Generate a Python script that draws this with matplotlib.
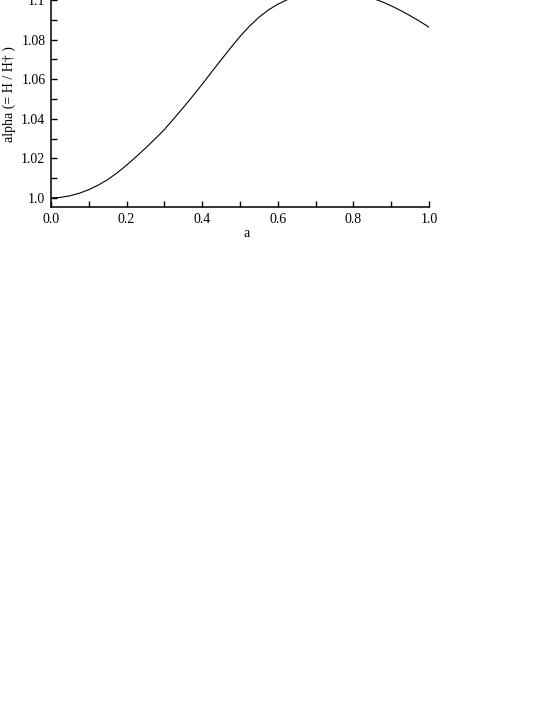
#!/usr/bin/env python
# -*- coding: utf-8 -*-
import matplotlib
matplotlib.use('Agg')
import matplotlib.pyplot as plt
from matplotlib.ticker import FixedLocator, MultipleLocator
matplotlib.rc('font', family='Liberation Serif', size=10)

###############################################################################
# Data
###############################################################################
A_VALS = [
    0.000, 0.025, 0.050, 0.075, 0.100, 0.125, 0.150, 0.175, 0.200, 0.225,
    0.250, 0.275, 0.300, 0.325, 0.350, 0.375, 0.400, 0.425, 0.450, 0.475,
    0.500, 0.525, 0.550, 0.575, 0.600, 0.625, 0.650, 0.675, 0.700, 0.725,
    0.750, 0.775, 0.800, 0.825, 0.850, 0.875, 0.900, 0.925, 0.950, 0.975,
    1.000
]
ALPHA_VALS = [
    1.0000, 1.0003, 1.0011, 1.0024, 1.0042, 1.0065, 1.0093, 1.0127, 1.0166,
    1.0208, 1.0252, 1.0298, 1.0346, 1.0401, 1.0457, 1.0515, 1.0575, 1.0637,
    1.0698, 1.0758, 1.0816, 1.0868, 1.0913, 1.0950, 1.0979, 1.1002, 1.1018,
    1.1029, 1.1036, 1.1040, 1.1041, 1.1039, 1.1033, 1.1023, 1.1009, 1.0992,
    1.0971, 1.0947, 1.0921, 1.0893, 1.0863
]
X_TICKS = [0.0, 0.2, 0.4, 0.6, 0.8, 1.0]
X_TICK_LABELS = ['0.0', '0.2', '0.4', '0.6', '0.8', '1.0']
Y_TICKS = [1.00, 1.02, 1.04, 1.06, 1.08, 1.10]
Y_TICK_LABELS = ['1.0', '1.02', '1.04', '1.06', '1.08', '1.1']
X_LABEL = 'a'
Y_LABEL = 'alpha (= H / H\u2020 )'

###############################################################################
# Plot
###############################################################################
fig = plt.figure(figsize=(5.45, 7.05), dpi=100)
# axes top runs past the figure edge, as in the reference
ax = fig.add_axes([0.0936, 0.7064, 0.6936, 0.3216])
ax.plot(A_VALS, ALPHA_VALS, color='black', linewidth=0.8)

ax.set_xlim(0.0, 1.0)
ax.set_ylim(0.99545, 1.11)
ax.spines['top'].set_visible(False)
ax.spines['right'].set_visible(False)
for side in ('left', 'bottom'):
    ax.spines[side].set_linewidth(1.1)

ax.xaxis.set_major_locator(FixedLocator(X_TICKS))
ax.set_xticklabels(X_TICK_LABELS)
ax.xaxis.set_minor_locator(MultipleLocator(0.1))
ax.yaxis.set_major_locator(FixedLocator(Y_TICKS))
ax.set_yticklabels(Y_TICK_LABELS)
ax.yaxis.set_minor_locator(MultipleLocator(0.01))
ax.tick_params(
    which='both', direction='in', length=4.3, width=1.0,
    top=False, right=False, labelsize=10
)
ax.tick_params(axis='x', which='both', pad=4.5)
ax.tick_params(axis='y', which='both', pad=4)

ax.set_xlabel(X_LABEL, fontsize=10, labelpad=0.5)
ax.xaxis.label.set_x(0.5185)
ax.set_ylabel(Y_LABEL, fontsize=10, labelpad=4)

fig.savefig('out.png', dpi=100, facecolor='white')
plt.close('all')
